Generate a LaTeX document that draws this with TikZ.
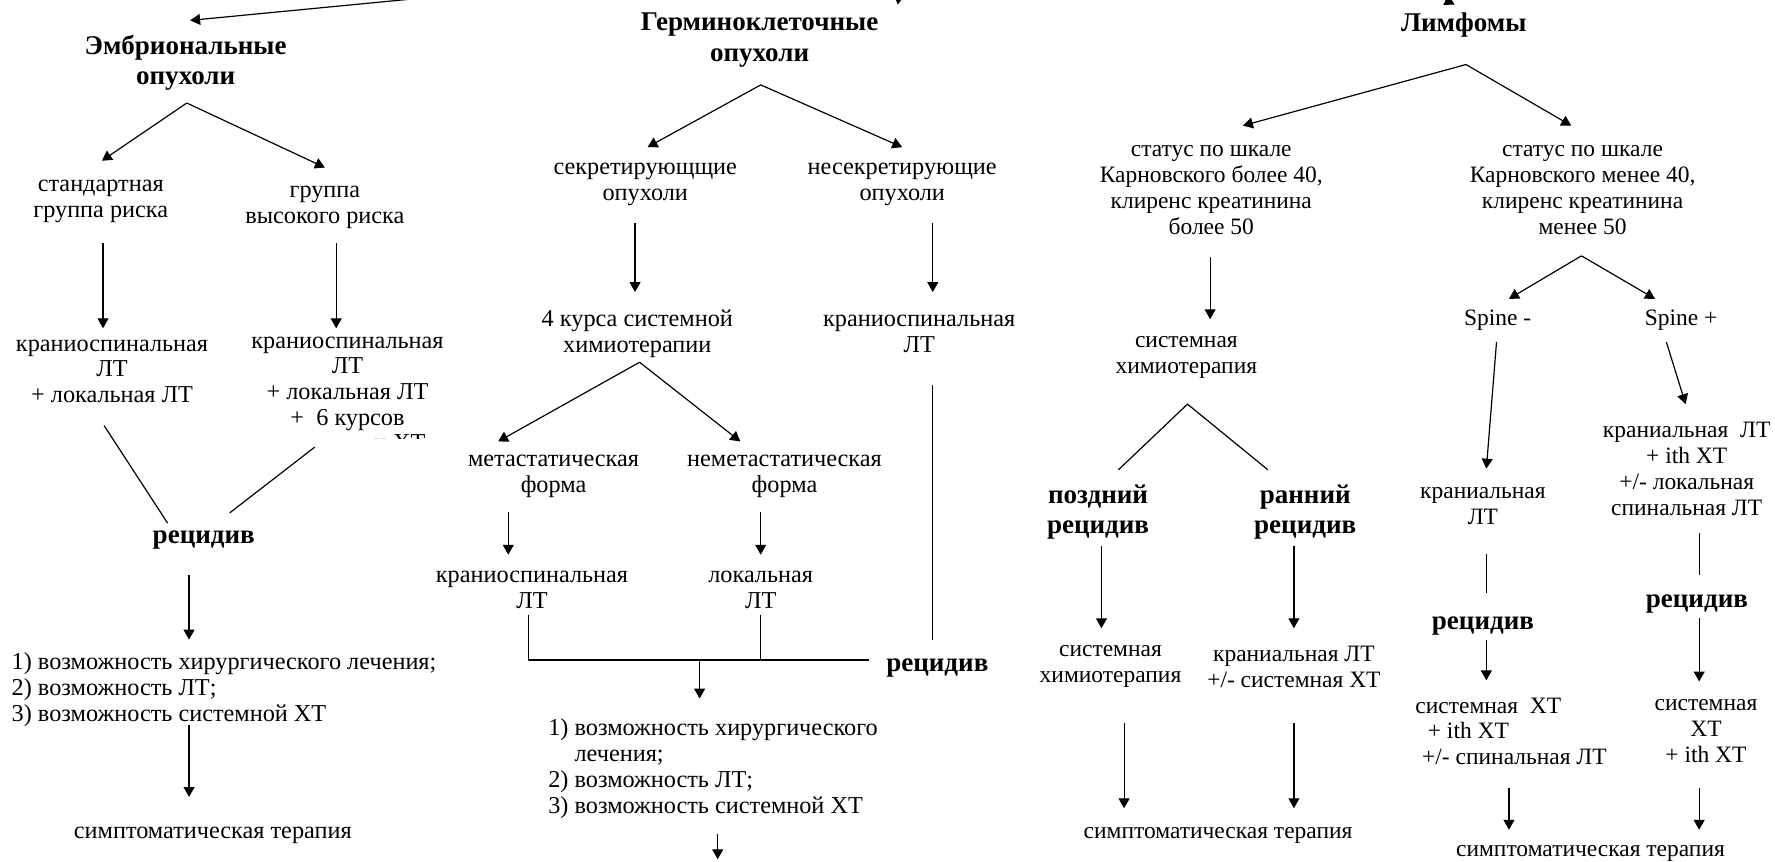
\documentclass[tikz,border=0pt]{standalone}
\usepackage{fontspec}
\setmainfont{Liberation Serif}
\usetikzlibrary{arrows.meta}
\begin{document}
\begin{tikzpicture}[x=0.02cm,y=-0.02cm,
  txt/.style={font=\fontsize{12.2}{13}\selectfont, align=center, inner sep=0pt, yshift=-0.06cm},
  txtR/.style={font=\fontsize{11.8}{13}\selectfont, align=center, inner sep=0pt, yshift=-0.06cm},
  hd/.style={font=\fontsize{13.6}{15.3}\selectfont\bfseries, align=center, inner sep=0pt, yshift=-0.045cm},
  hd1/.style={hd, yshift=-0.06cm},
  arr/.style={-{Triangle[length=5pt,width=5.5pt]}, line width=0.6pt},
  ln/.style={line width=0.6pt}]
\useasboundingbox (0,0) rectangle (1568,761);
\clip (0,0) rectangle (1568,761);

% ---------------- nodes: left column
\node[hd]  (emb)  at (164,53)  {Эмбриональные\\опухоли};
\node[txt] (std)  at (89,175)  {стандартная\\группа риска};
\node[txt] (high) at (287,180) {группа\\высокого риска};
\node[txt] (csl1) at (99,325)  {краниоспинальная\\ЛТ\\+ локальная ЛТ};
\node[txt] (csl2) at (307,336) {краниоспинальная\\ЛТ\\+ локальная ЛТ\\+\ \ 6 курсов};
\begin{scope}
  \clip (300,379) rectangle (400,387);
  \node[txt, anchor=base west] (cut) at (330,395) {и ХТ};
\end{scope}
\node[hd1] (rec1) at (180,472) {рецидив};
\node[txt, anchor=west, align=left] (list1) at (10,606)
  {1) возможность хирургического лечения;\\2) возможность ЛТ;\\3) возможность системной ХТ};
\node[txt] (sym1) at (188,735) {симптоматическая терапия};

% ---------------- nodes: middle column
\node[hd]  (germ)   at (671,33)  {Герминоклеточные\\опухоли};
\node[txt] (sec)    at (570,160) {секретирующщие\\опухоли};
\node[txt] (nsec)   at (797,160) {несекретирующие\\опухоли};
\node[txt] (chemo4) at (563,292) {4 курса системной\\химиотерапии};
\node[txt] (csl3)   at (812,292) {краниоспинальная\\ЛТ};
\node[txt] (met)    at (489,418) {метастатическая\\форма};
\node[txt] (nmet)   at (693,418) {неметастатическая\\форма};
\node[txt] (csl4)   at (470,518) {краниоспинальная\\ЛТ};
\node[txt] (loc)    at (672,518) {локальная\\ЛТ};
\node[hd1] (rec2)   at (828,585) {рецидив};
\node[txt, anchor=west, align=left] (list2) at (484,676)
  {1) возможность хирургического\\\hphantom{1)\ }лечения;\\2) возможность ЛТ;\\3) возможность системной ХТ};

% ---------------- nodes: right column
\node[hd]   (lym)   at (1293,20)  {Лимфомы};
\node[txtR] (k1)    at (1070,165) {статус по шкале\\Карновского более 40,\\клиренс креатинина\\более 50};
\node[txtR] (k2)    at (1398,165) {статус по шкале\\Карновского менее 40,\\клиренс креатинина\\менее 50};
\node[txtR] (sys1)  at (1048,313) {системная\\химиотерапия};
\node[hd]   (late)  at (970,450)  {поздний\\рецидив};
\node[hd]   (early) at (1153,450) {ранний\\рецидив};
\node[txtR] (sys2)  at (981,586)  {системная\\химиотерапия};
\node[txtR] (kr)    at (1143,586) {краниальная ЛТ\\+/- системная ХТ};
\node[txtR] (sym2)  at (1076,735) {симптоматическая терапия};
\node[txtR] (spm)   at (1323,280) {Spine -};
\node[txtR] (spp)   at (1485,280) {Spine +};
\node[txtR] (kr2)   at (1310,444) {краниальная\\ЛТ};
\node[txtR] (kr3)   at (1490,411) {краниальная\ \ ЛТ\\+ ith ХТ\\+/- локальная\\спинальная ЛТ};
\node[hd1]  (rec3)  at (1310,548) {рецидив};
\node[hd1]  (rec4)  at (1499,528) {рецидив};
\node[txtR, anchor=west, align=left] (sx1) at (1250,643)
  {системная\ \ ХТ\\\hspace*{0.22cm}+ ith ХТ\\\hspace*{0.12cm}+/- спинальная ЛТ};
\node[txtR] (sx2)   at (1507,643) {системная\\ХТ\\+ ith ХТ};
\node[txtR] (sym3)  at (1405,751) {симптоматическая терапия};

% ---------------- coordinates
\coordinate (srcE) at (386,-3);   \coordinate (embTip) at (168,18);
\coordinate (srcG) at (800,-40);  \coordinate (germTip) at (793,4);
\coordinate (srcL) at (1200,-40); \coordinate (lymTip) at (1285,4);
\coordinate (embA) at (165,91);  \coordinate (stdT) at (90,142);  \coordinate (highT) at (287,148);
\coordinate (stdB) at (91,215);  \coordinate (csl1T) at (91,290);
\coordinate (highB) at (297,215); \coordinate (csl2T) at (297,290);
\coordinate (csl1B) at (92,376); \coordinate (rec1L) at (148,462);
\coordinate (csl2B) at (278,395); \coordinate (rec1R) at (203,453);
\coordinate (rec1B) at (167,508); \coordinate (list1T) at (167,565);
\coordinate (list1B) at (167,640); \coordinate (sym1T) at (167,704);

\coordinate (germA) at (672,75); \coordinate (secT) at (572,130); \coordinate (nsecT) at (797,130);
\coordinate (secB) at (561,197); \coordinate (chemo4T) at (561,258);
\coordinate (nsecB) at (824,197); \coordinate (csl3T) at (824,258);
\coordinate (chA) at (565,320); \coordinate (metT) at (440,390); \coordinate (nmetT) at (654,390);
\coordinate (metB) at (449,452); \coordinate (csl4T) at (449,490);
\coordinate (nmetB) at (672,452); \coordinate (locT) at (672,490);
\coordinate (csl4B) at (467,543); \coordinate (jL) at (467,583);
\coordinate (locB) at (672,543); \coordinate (jM) at (672,583);
\coordinate (jR) at (768,583); \coordinate (jA) at (618,583); \coordinate (list2T) at (618,617);
\coordinate (csl3B) at (824,340); \coordinate (rec2T) at (824,565);
\coordinate (list2B) at (634,737); \coordinate (outB) at (634,759);

\coordinate (lymA) at (1295,57); \coordinate (k1T) at (1098,111); \coordinate (k2T) at (1388,111);
\coordinate (k1B) at (1069,227); \coordinate (sys1T) at (1069,282);
\coordinate (sA) at (1049,357); \coordinate (lateT) at (988,415); \coordinate (earlyT) at (1120,415);
\coordinate (lateB) at (973,482); \coordinate (sys2T) at (973,555);
\coordinate (earlyB) at (1143,482); \coordinate (krT) at (1143,555);
\coordinate (sys2B) at (993,639); \coordinate (sym2L) at (993,714);
\coordinate (krB) at (1143,639); \coordinate (sym2R) at (1143,714);
\coordinate (k2A) at (1397,226); \coordinate (spmT) at (1333,264); \coordinate (sppT) at (1462,264);
\coordinate (spmB) at (1322,302); \coordinate (kr2T) at (1313,414);
\coordinate (sppB) at (1472,302); \coordinate (kr3T) at (1489,357);
\coordinate (kr2B) at (1313,489); \coordinate (rec3T) at (1313,524);
\coordinate (kr3B) at (1501,471); \coordinate (rec4T) at (1501,508);
\coordinate (rec3B) at (1313,565); \coordinate (sx1T) at (1313,601);
\coordinate (rec4B) at (1501,546); \coordinate (sx2T) at (1501,602);
\coordinate (sx1B) at (1333,696); \coordinate (sym3L) at (1333,733);
\coordinate (sx2B) at (1501,696); \coordinate (sym3R) at (1501,733);

% ---------------- connectors
\draw[arr] (srcE) -- (embTip);
\draw[arr] (srcG) -- (germTip);
\draw[arr] (srcL) -- (lymTip);

\draw[arr] (embA) -- (stdT);
\draw[arr] (embA) -- (highT);
\draw[arr] (stdB) -- (csl1T);
\draw[arr] (highB) -- (csl2T);
\draw[ln] (csl1B) -- (rec1L);
\draw[ln] (csl2B) -- (rec1R);
\draw[arr] (rec1B) -- (list1T);
\draw[arr] (list1B) -- (sym1T);

\draw[arr] (germA) -- (secT);
\draw[arr] (germA) -- (nsecT);
\draw[arr] (secB) -- (chemo4T);
\draw[arr] (nsecB) -- (csl3T);
\draw[arr] (chA) -- (metT);
\draw[arr] (chA) -- (nmetT);
\draw[arr] (metB) -- (csl4T);
\draw[arr] (nmetB) -- (locT);
\draw[ln] (csl4B) -- (jL) -- (jR);
\draw[ln] (locB) -- (jM);
\draw[ln] (csl3B) -- (rec2T);
\draw[arr] (jA) -- (list2T);
\draw[arr] (list2B) -- (outB);

\draw[arr] (lymA) -- (k1T);
\draw[arr] (lymA) -- (k2T);
\draw[arr] (k1B) -- (sys1T);
\draw[ln] (lateT) -- (sA) -- (earlyT);
\draw[arr] (lateB) -- (sys2T);
\draw[arr] (earlyB) -- (krT);
\draw[arr] (sys2B) -- (sym2L);
\draw[arr] (krB) -- (sym2R);
\draw[arr] (k2A) -- (spmT);
\draw[arr] (k2A) -- (sppT);
\draw[arr] (spmB) -- (kr2T);
\draw[arr] (sppB) -- (kr3T);
\draw[ln] (kr2B) -- (rec3T);
\draw[ln] (kr3B) -- (rec4T);
\draw[arr] (rec3B) -- (sx1T);
\draw[arr] (rec4B) -- (sx2T);
\draw[arr] (sx1B) -- (sym3L);
\draw[arr] (sx2B) -- (sym3R);
\end{tikzpicture}
\end{document}
